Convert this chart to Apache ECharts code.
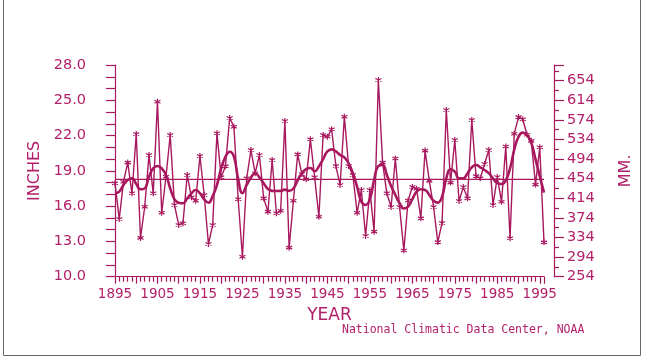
<!DOCTYPE html>
<html>
<head>
<meta charset="utf-8">
<script src="https://cdn.jsdelivr.net/npm/echarts@6/dist/echarts.min.js"></script>
<style>
  html, body { margin: 0; padding: 0; background: #ffffff; }
  #chart { width: 646px; height: 360px; }
</style>
</head>
<body>
<div id="chart"></div>
<script>
// Annual precipitation, 1895-1996 (inches)
const firstYear = 1895;
const precipInches = [
  17.94, 14.90, 18.08, 19.70, 17.09, 22.13, 13.30, 15.95, 20.35, 17.09,
  24.88, 15.44, 18.50, 22.05, 16.10, 14.40, 14.54, 18.65, 16.75, 16.46,
  20.26, 16.95, 12.78, 14.40, 22.20, 18.45, 19.40, 23.50, 22.75, 16.58,
  11.70, 18.37, 20.77, 18.80, 20.35, 16.66, 15.53, 19.92, 15.39, 15.61,
  23.24, 12.47, 16.46, 20.40, 18.73, 18.28, 21.68, 18.45, 15.10, 22.05,
  21.90, 22.53, 19.41, 17.80, 23.60, 19.41, 18.65, 15.44, 17.37, 13.46,
  17.37, 13.83, 26.73, 19.70, 17.09, 15.92, 20.05, 15.93, 12.23, 16.48,
  17.62, 17.48, 14.96, 20.72, 18.15, 15.93, 12.94, 14.57, 24.18, 18.00,
  21.62, 16.44, 17.62, 16.66, 23.33, 18.55, 18.37, 19.58, 20.77, 16.10,
  18.47, 16.38, 21.07, 13.27, 22.16, 23.57, 23.39, 22.07, 21.55, 17.83,
  21.00, 12.92
];
// Smoothed trend of the same record (inches)
const smoothedInches = [
  17.09, 17.23, 17.80, 18.22, 18.37, 17.88, 17.43, 17.51, 18.50, 19.21,
  19.41, 19.21, 18.65, 17.51, 16.58, 16.29, 16.24, 16.66, 17.09, 17.37,
  17.09, 16.58, 16.29, 16.86, 17.80, 19.20, 20.20, 20.63, 20.20, 18.30,
  17.10, 17.80, 18.42, 18.80, 18.45, 17.94, 17.46, 17.30, 17.29, 17.30,
  17.40, 17.30, 17.50, 18.20, 18.80, 19.15, 19.24, 18.96, 19.38, 20.00,
  20.65, 20.83, 20.65, 20.35, 20.15, 19.64, 18.80, 17.66, 16.38, 16.10,
  16.58, 18.22, 19.41, 19.50, 18.65, 17.71, 16.95, 16.24, 15.80, 15.95,
  16.60, 17.23, 17.43, 17.37, 16.95, 16.46, 16.30, 16.80, 18.37, 19.13,
  18.93, 18.37, 18.37, 18.80, 19.30, 19.50, 19.30, 19.07, 18.80, 18.35,
  17.97, 17.88, 18.20, 19.20, 20.80, 21.90, 22.25, 22.05, 21.40, 20.00,
  18.55, 17.15
];
// Long-term mean (inches)
const meanInches = 18.28;

// Axis ranges
const inchMin = 10, inchMax = 28, inchLabelStep = 3;
const mmBase = 254, mmStep = 40, mmTop = 432;

const ink = '#A8185E';
const txt = '#B3206A';
const font = 'DejaVu Sans';

const lastIndex = precipInches.length - 1;
const precipPts = precipInches.map((v, i) => [i, v]);
const smoothPts = smoothedInches.map((v, i) => [i, v]);
const meanPts = [[0, meanInches], [lastIndex, meanInches]];

// asterisk marker
const asterisk = 'path://M5,0L5,10M0.7,2.5L9.3,7.5M0.7,7.5L9.3,2.5';

const chart = echarts.init(document.getElementById('chart'), null, { renderer: 'canvas' });

chart.setOption({
  animation: false,
  backgroundColor: '#ffffff',
  grid: { left: 115, right: 102, top: 65, bottom: 83.3, containLabel: false },
  xAxis: {
    type: 'value',
    min: 0,
    max: lastIndex,
    interval: 5,
    axisLine: { show: true, lineStyle: { color: ink, width: 1.2 } },
    axisTick: { show: true, length: 7, lineStyle: { color: ink, width: 1.2 } },
    minorTick: { show: true, splitNumber: 5, length: 5, lineStyle: { color: ink, width: 1.2 } },
    splitLine: { show: false },
    axisLabel: {
      color: txt, fontFamily: font, fontSize: 13.5, margin: 11, showMaxLabel: false,
      formatter: v => (v % 10 === 0 ? String(firstYear + v) : '')
    },
    name: 'YEAR',
    nameLocation: 'middle',
    nameGap: 27,
    nameTextStyle: { color: txt, fontFamily: font, fontSize: 17 }
  },
  yAxis: [
    {
      type: 'value',
      min: inchMin,
      max: inchMax,
      interval: 1,
      offset: 9,
      axisLine: { show: true, lineStyle: { color: ink, width: 1.2 } },
      axisTick: { show: true, length: 9, lineStyle: { color: ink, width: 1.2 } },
      splitLine: { show: false },
      axisLabel: {
        color: txt, fontFamily: font, fontSize: 14.5, margin: 20,
        formatter: v => ((v - inchMin) % inchLabelStep === 0 ? v.toFixed(1) : '')
      },
      name: 'INCHES',
      nameLocation: 'middle',
      nameGap: 60,
      nameRotate: 90,
      nameTextStyle: { color: txt, fontFamily: font, fontSize: 16 }
    },
    {
      type: 'value',
      position: 'right',
      min: 0,
      max: mmTop,
      interval: mmStep,
      offset: 10,
      axisLine: { show: true, lineStyle: { color: ink, width: 1.2 } },
      axisTick: { show: true, length: 10, lineStyle: { color: ink, width: 1.2 } },
      minorTick: { show: true, splitNumber: 2, length: 5, lineStyle: { color: ink, width: 1.2 } },
      splitLine: { show: false },
      axisLabel: {
        color: txt, fontFamily: font, fontSize: 14.5, margin: 13, showMaxLabel: false,
        formatter: v => String(mmBase + v)
      },
      name: 'MM.',
      nameLocation: 'middle',
      nameGap: 64,
      nameRotate: 90,
      nameTextStyle: { color: txt, fontFamily: font, fontSize: 16 }
    }
  ],
  series: [
    {
      type: 'line',
      data: meanPts,
      symbol: 'none',
      lineStyle: { color: ink, width: 1.2 },
      silent: true,
      z: 1
    },
    {
      type: 'line',
      data: precipPts,
      symbol: asterisk,
      symbolSize: 6,
      showAllSymbol: true,
      itemStyle: { color: 'none', borderColor: ink, borderWidth: 1.2 },
      lineStyle: { color: ink, width: 1.4 },
      z: 2
    },
    {
      type: 'line',
      data: smoothPts,
      smooth: 0.5,
      symbol: 'none',
      lineStyle: { color: ink, width: 2.6 },
      z: 3
    }
  ],
  graphic: [
    {
      type: 'text',
      left: 342,
      top: 324,
      style: { text: 'National Climatic Data Center, NOAA', fill: txt, font: '11.5px "DejaVu Sans Mono"' }
    },
    {
      type: 'rect',
      shape: { x: 3.5, y: -2, width: 637, height: 357.5 },
      style: { fill: 'none', stroke: '#666666', lineWidth: 1 },
      silent: true
    }
  ]
});
</script>
</body>
</html>
